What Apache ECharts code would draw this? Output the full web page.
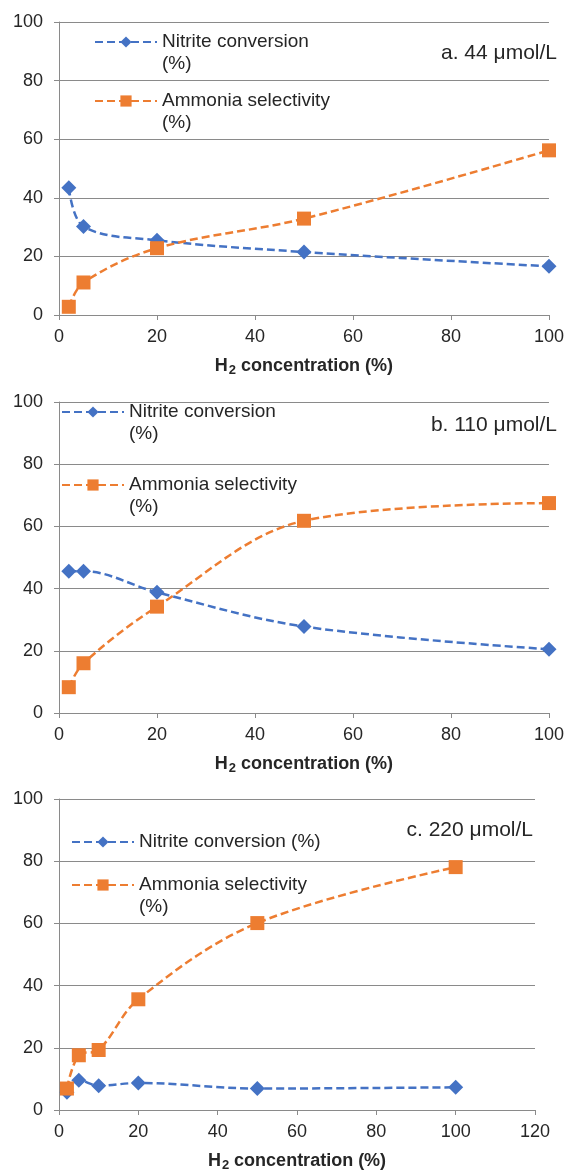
<!DOCTYPE html>
<html>
<head>
<meta charset="utf-8">
<script src="https://cdn.jsdelivr.net/npm/echarts@6/dist/echarts.min.js"></script>
<style>
    html, body { margin: 0; padding: 0; background: #fff; }
    #chart { width: 567px; height: 1173px; }
</style>
</head>
<body>
<div id="chart"></div>
<script>
// H2 concentration (%) on x, values in % on y
const xA = [2, 5, 20, 50, 100];
const nitriteA = [43.4, 30.2, 25.5, 21.5, 16.6];
const ammoniaA = [2.8, 11.1, 22.8, 32.9, 56.2];

const xB = [2, 5, 20, 50, 100];
const nitriteB = [45.6, 45.6, 38.8, 27.8, 20.5];
const ammoniaB = [8.3, 16.0, 34.2, 61.8, 67.5];

const xC = [2, 5, 10, 20, 50, 100];
const nitriteC = [5.7, 9.6, 7.8, 8.7, 6.9, 7.3];
const ammoniaC = [6.9, 17.6, 19.3, 35.6, 60.1, 78.1];

const panelLabels = ['a. 44 μmol/L', 'b. 110 μmol/L', 'c. 220 μmol/L'];
const xTicks = [[0, 100], [0, 100], [0, 120]];
const yTicks = [0, 100];

const NITRITE = 'Nitrite conversion (%)';
const AMMONIA = 'Ammonia selectivity (%)';
const BLUE = '#4472c4';
const ORANGE = '#ed7d31';
const FONT = '"Liberation Sans", Arial, sans-serif';
const TEXT = '#262626';
const GRID = '#8a8a8a';

const chart = echarts.init(document.getElementById('chart'));

const grids = [
    {left: 59, top: 22, width: 490, height: 293},
    {left: 59, top: 402, width: 490, height: 311},
    {left: 59, top: 799, width: 476, height: 312}
];

function pairs (xs, ys) {
    return xs.map((x, i) => [x, ys[i]]);
}

// empty first line keeps the icon level with the first text line
function wrapPct (name) {
    return '\n' + name.replace(' (%)', '\n(%)');
}

// one legend per entry so each can sit where it does in the figure
function legendItem (name, left, top, wrap) {
    return {
        data: [name],
        left: left,
        top: top,
        padding: 0,
        itemWidth: 62,
        itemHeight: 14,
        selectedMode: false,
        formatter: wrap ? wrapPct : (n) => n,
        textStyle: {
            fontFamily: FONT,
            fontSize: 19,
            lineHeight: 22,
            color: TEXT
        }
    };
}

const xAxes = grids.map((g, i) => ({
    type: 'value',
    gridIndex: i,
    min: xTicks[i][0],
    max: xTicks[i][1],
    interval: 20,
    axisLine: {lineStyle: {color: GRID, width: 1}},
    axisTick: {show: true, length: 5, lineStyle: {color: GRID}},
    axisLabel: {margin: 13, fontFamily: FONT, fontSize: 18, color: TEXT},
    splitLine: {show: false},
    name: '{b|H}{s|2}{b| concentration (%)}',
    nameLocation: 'middle',
    nameGap: 40,
    nameTextStyle: {
        rich: {
            b: {fontFamily: FONT, fontSize: 18, fontWeight: 'bold', color: TEXT, lineHeight: 22},
            s: {fontFamily: FONT, fontSize: 13, fontWeight: 'bold', color: TEXT, lineHeight: 22,
                verticalAlign: 'bottom', padding: [8, 0, 0, 1]}
        }
    }
}));

const yAxes = grids.map((g, i) => ({
    type: 'value',
    gridIndex: i,
    min: yTicks[0],
    max: yTicks[1],
    interval: 20,
    axisLine: {show: true, lineStyle: {color: GRID, width: 1}},
    axisTick: {show: true, length: 5, lineStyle: {color: GRID}},
    axisLabel: {margin: 16, fontFamily: FONT, fontSize: 18, color: TEXT},
    splitLine: {show: true, lineStyle: {color: GRID, width: 1}}
}));

function lineSeries (name, color, symbol, size, data, i) {
    return {
        name: name,
        type: 'line',
        xAxisIndex: i,
        yAxisIndex: i,
        data: data,
        smooth: 0.35,
        symbol: symbol,
        symbolSize: size,
        showAllSymbol: true,
        lineStyle: {color: color, width: 2.5, type: [8, 4]},
        itemStyle: {color: color},
        emphasis: {disabled: true}
    };
}

const series = [
    lineSeries(NITRITE, BLUE, 'diamond', 15, pairs(xA, nitriteA), 0),
    lineSeries(AMMONIA, ORANGE, 'rect', 14, pairs(xA, ammoniaA), 0),
    lineSeries(NITRITE, BLUE, 'diamond', 15, pairs(xB, nitriteB), 1),
    lineSeries(AMMONIA, ORANGE, 'rect', 14, pairs(xB, ammoniaB), 1),
    lineSeries(NITRITE, BLUE, 'diamond', 15, pairs(xC, nitriteC), 2),
    lineSeries(AMMONIA, ORANGE, 'rect', 14, pairs(xC, ammoniaC), 2)
];

chart.setOption({
    animation: false,
    backgroundColor: '#fff',
    title: [
        {text: panelLabels[0], right: 10, top: 43},
        {text: panelLabels[1], right: 10, top: 415},
        {text: panelLabels[2], right: 34, top: 820}
    ].map(t => Object.assign(t, {
        padding: 0,
        textStyle: {fontFamily: FONT, fontSize: 21, fontWeight: 'normal', color: TEXT}
    })),
    legend: [
        legendItem(NITRITE, 94, 42 - 33, true),
        legendItem(AMMONIA, 94, 101 - 33, true),
        legendItem(NITRITE, 61, 412 - 33, true),
        legendItem(AMMONIA, 61, 485 - 33, true),
        legendItem(NITRITE, 71, 842 - 11, false),
        legendItem(AMMONIA, 71, 885 - 33, true)
    ],
    grid: grids,
    xAxis: xAxes,
    yAxis: yAxes,
    series: series
});
</script>
</body>
</html>
